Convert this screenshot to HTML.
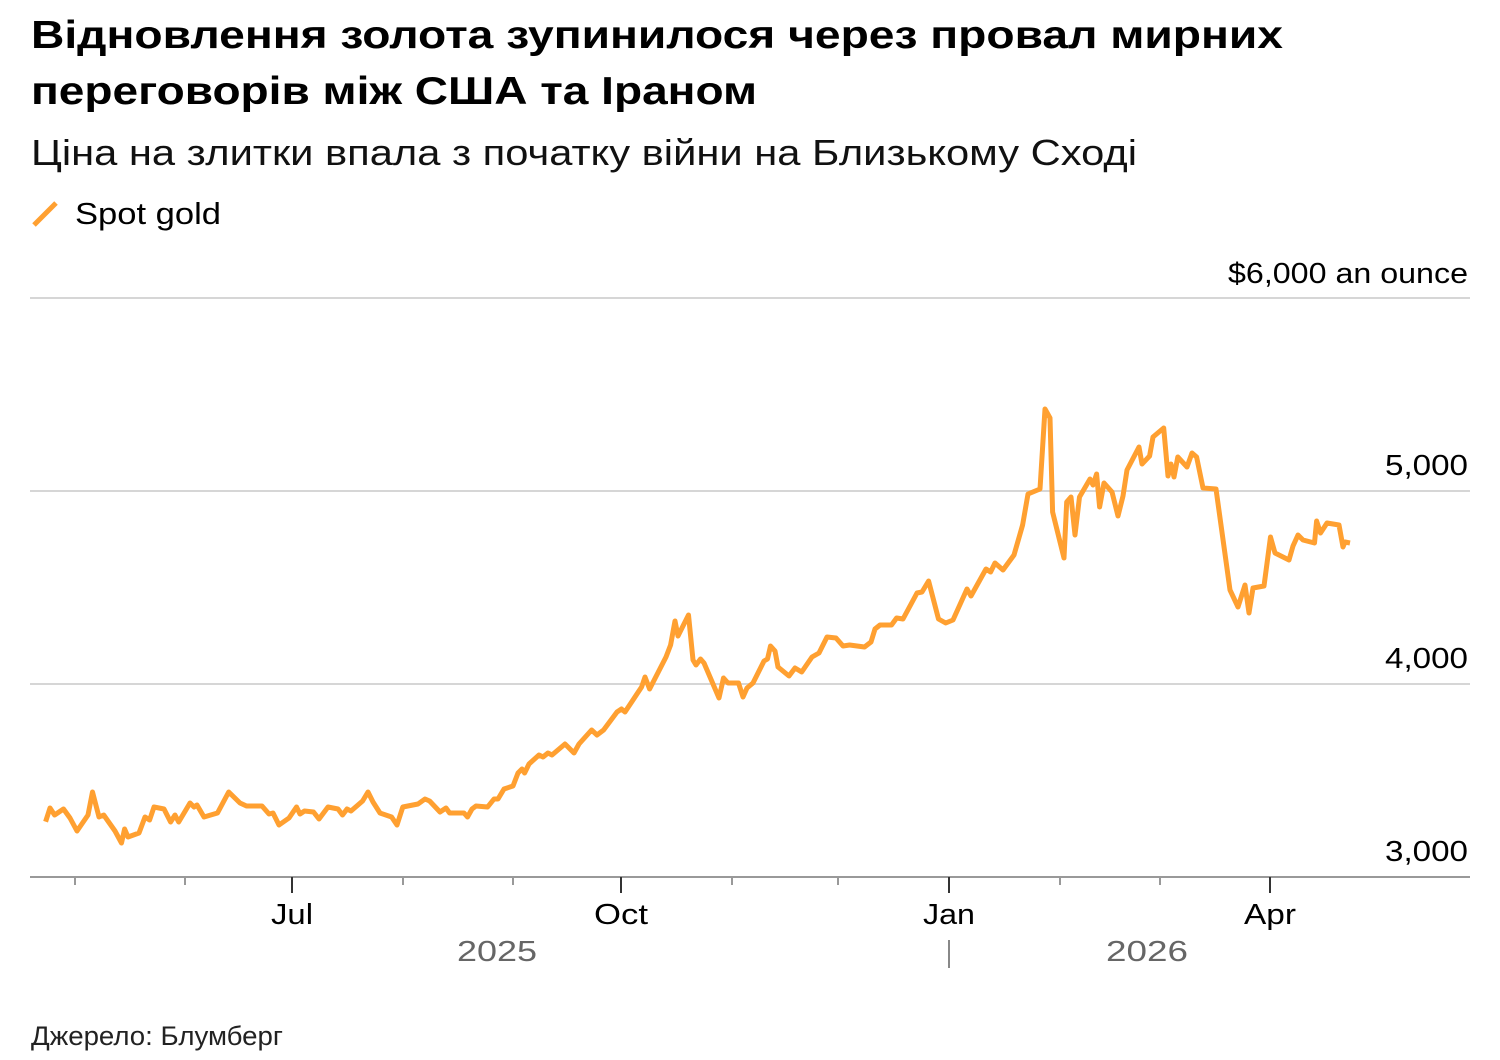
<!DOCTYPE html>
<html><head><meta charset="utf-8"><style>
body{margin:0;background:#fff;width:1500px;height:1060px;overflow:hidden;font-family:"Liberation Sans","DejaVu Sans",sans-serif;}
svg{position:absolute;left:0;top:0}
</style></head><body>
<svg width="1500" height="1060" xmlns="http://www.w3.org/2000/svg" font-family="Liberation Sans, DejaVu Sans, sans-serif">
<text x="31" y="48" font-size="39" font-weight="bold" fill="#000" textLength="1252" lengthAdjust="spacingAndGlyphs">Відновлення золота зупинилося через провал мирних</text>
<text x="31" y="104" font-size="39" font-weight="bold" fill="#000" textLength="726" lengthAdjust="spacingAndGlyphs">переговорів між США та Іраном</text>
<text x="31" y="165" font-size="36" fill="#111" textLength="1106" lengthAdjust="spacingAndGlyphs">Ціна на злитки впала з початку війни на Близькому Сході</text>
<line x1="34" y1="225" x2="56" y2="203" stroke="#ffa031" stroke-width="5"/>
<text x="75" y="224" font-size="31" fill="#000" textLength="146" lengthAdjust="spacingAndGlyphs">Spot gold</text>
<g stroke="#d6d6d6" stroke-width="2">
<line x1="30" y1="298" x2="1470" y2="298"/><line x1="30" y1="491" x2="1470" y2="491"/><line x1="30" y1="684" x2="1470" y2="684"/>
</g>
<line x1="30" y1="877" x2="1470" y2="877" stroke="#999" stroke-width="2"/>
<g font-size="29" fill="#000">
<text x="1228" y="283" textLength="240" lengthAdjust="spacingAndGlyphs">$6,000 an ounce</text>
<text x="1385" y="475" textLength="83" lengthAdjust="spacingAndGlyphs">5,000</text>
<text x="1385" y="668" textLength="83" lengthAdjust="spacingAndGlyphs">4,000</text>
<text x="1385" y="861" textLength="83" lengthAdjust="spacingAndGlyphs">3,000</text>
</g>
<g stroke="#999" stroke-width="2">
<line x1="75" y1="877" x2="75" y2="885"/><line x1="185" y1="877" x2="185" y2="885"/><line x1="403" y1="877" x2="403" y2="885"/><line x1="513" y1="877" x2="513" y2="885"/><line x1="732" y1="877" x2="732" y2="885"/><line x1="838" y1="877" x2="838" y2="885"/><line x1="1060" y1="877" x2="1060" y2="885"/><line x1="1160" y1="877" x2="1160" y2="885"/>
</g>
<g stroke="#333" stroke-width="2">
<line x1="292" y1="877" x2="292" y2="893"/><line x1="621" y1="877" x2="621" y2="893"/><line x1="949" y1="877" x2="949" y2="893"/><line x1="1270" y1="877" x2="1270" y2="893"/>
<line x1="949" y1="940" x2="949" y2="968" stroke="#888"/>
</g>
<g font-size="29" fill="#000" text-anchor="middle">
<text x="292" y="924" textLength="42" lengthAdjust="spacingAndGlyphs">Jul</text><text x="621" y="924" textLength="54" lengthAdjust="spacingAndGlyphs">Oct</text><text x="949" y="924" textLength="52" lengthAdjust="spacingAndGlyphs">Jan</text><text x="1270" y="924" textLength="52" lengthAdjust="spacingAndGlyphs">Apr</text>
</g>
<g font-size="29" fill="#666" text-anchor="middle">
<text x="497" y="961" textLength="80" lengthAdjust="spacingAndGlyphs">2025</text><text x="1147" y="961" textLength="82" lengthAdjust="spacingAndGlyphs">2026</text>
</g>
<polyline fill="none" stroke="#ffa031" stroke-width="5" stroke-linejoin="round" points="45.6,821.7 50,808 54.6,815 63.5,809 70,818 77,831 88,815 92.5,792 99,817 103.7,815 115,831 121.5,843 124.6,829 128,837 139,833 145,817 149.6,820 154,807 164,809 170.6,822 175,815 178.7,822 190,803 194,807 197,805 204,817 217.5,813 228.7,792 240,803 246.5,806 262,806 269,814 273,813 279,825 289,818 296.5,807 300,814 304.5,811 313.5,812 319,819 328,807 338,809 342.5,815 347,809 351,811 362.6,801 368,792 373,802 380,813 391.6,817 397,825 402.8,807 418,804 425,799 429.6,801 440,812 446,808 449.6,813 464,813 467.5,817 472,809 476,806 487.6,807 494,799 498,799 504,789 513,786 518,773 522,769 524.6,773 529,764 539,755 543,757 548,753 552,755 565,744 574,753 579,744 591.6,730 597,735 603.6,730 617,712 621.5,709 625,712 641.6,687 645,677 649.6,689 666,657 670.6,645 675,621 678,636 688.5,615 693,660 696,665 700.5,659 704,663 719,698 723.5,678 728,683 738.5,683 743,697 747,688 753,683 764,661 767.5,659 770.5,646 775,651 778,667 789,676 795,668 801.7,672 812,657 819,653 827,637 836,638 843,646 849.6,645 864.5,647 871,642 875,629 880,625 891.5,625 896.6,618 903,619 917,593 922,592 928.6,581 938.5,619 945.7,623 953,620 967,589 971,596 986,569 990.6,572 995,563 1003,570 1014,555 1022.6,525 1028,494 1040,489 1045,409 1050,418 1052.6,512 1064,558 1066.7,502 1071,497 1075,535 1079.5,497 1090,479 1093,485 1096.6,474 1099.6,507 1104,483 1112,492 1118,516 1123,496 1127,470 1139,447 1142,464 1149.6,456 1153,437 1163.7,428 1168,476 1171,464 1174,477 1177.8,457 1187,467 1192,453 1196.6,457 1203,488 1216,489 1230,590 1238,607 1245,585 1249,613 1253,588 1264,586 1270.5,537 1275,553 1289,560 1293,546 1298,535 1303,540 1314.5,543 1316.6,521 1320.5,533 1327,523 1339,525 1343,547 1345,542 1350,543"/>
<text x="31" y="1045" font-size="27" fill="#222" textLength="252" lengthAdjust="spacingAndGlyphs">Джерело: Блумберг</text>
</svg>
</body></html>
